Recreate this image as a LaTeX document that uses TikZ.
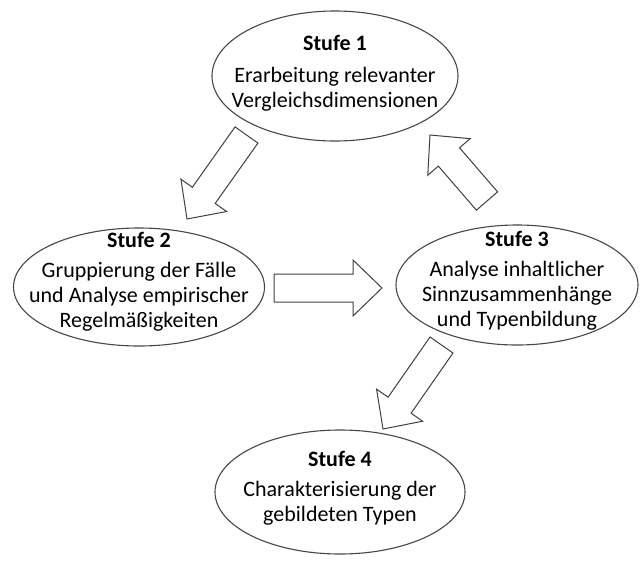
\documentclass[tikz,border=0pt]{standalone}
\usepackage{fontspec}
\setmainfont{Carlito}
\usetikzlibrary{shapes.geometric,calc}

\tikzset{
  stage/.style={ellipse, draw=black!72, line width=1.1pt, fill=white, inner sep=0pt},
  stagetext/.style={align=center, inner sep=0pt, font=\fontsize{22}{25}\selectfont},
  arrowbox/.style={draw=black!75, line width=1pt, fill=white, line join=miter},
}

% outlined block arrow from tail #1 to tip #2
\newcommand{\blockarrow}[2]{%
  \coordinate (ba) at ($(#2)!29pt!(#1)$);
  \draw[arrowbox] ($(#1)!14pt!90:(#2)$) -- ($(ba)!14pt!90:(#2)$)
    -- ($(ba)!28pt!90:(#2)$) -- (#2) -- ($(ba)!28pt!-90:(#2)$)
    -- ($(ba)!14pt!-90:(#2)$) -- ($(#1)!14pt!-90:(#2)$) -- cycle;}

\begin{document}
\begin{tikzpicture}[x=1pt,y=1pt]
  \useasboundingbox[fill=white] (0,0) rectangle (640,-560);

  % stage outlines
  \node[stage, minimum width=246pt, minimum height=130pt] (s1) at (335,-76) {};
  \node[stage, minimum width=251pt, minimum height=118pt] (s2) at (139,-287) {};
  \node[stage, minimum width=242pt, minimum height=120pt] (s3) at (517,-285) {};
  \node[stage, minimum width=250pt, minimum height=124pt] (s4) at (340,-492) {};

  % stage texts
  \node[stagetext] (l1) at ($(s1.center)+(0,3)$)
    {\textbf{Stufe 1}\\[7pt]Erarbeitung relevanter\\Vergleichsdimensionen};
  \node[stagetext] (l2) at ($(s2.center)+(0,5)$)
    {\textbf{Stufe 2}\\[5pt]Gruppierung der Fälle\\und Analyse empirischer\\Regelmäßigkeiten};
  \node[stagetext] (l3) at ($(s3.center)+(0,4)$)
    {\textbf{Stufe 3}\\[5pt]Analyse inhaltlicher\\Sinnzusammenhänge\\und Typenbildung};
  \node[stagetext] (l4) at ($(s4.center)+(0,4)$)
    {\textbf{Stufe 4}\\[5pt]Charakterisierung der\\gebildeten Typen};

  % arrow end points
  \coordinate (t12) at (246.5,-135); \coordinate (h12) at (187,-219);
  \coordinate (t23) at (274,-288);   \coordinate (h23) at (382,-288);
  \coordinate (t31) at (487,-201);   \coordinate (h31) at (430,-135);
  \coordinate (t34) at (441.5,-345); \coordinate (h34) at (383,-429);

  \blockarrow{t12}{h12}
  \blockarrow{t23}{h23}
  \blockarrow{t31}{h31}
  \blockarrow{t34}{h34}
\end{tikzpicture}
\end{document}
